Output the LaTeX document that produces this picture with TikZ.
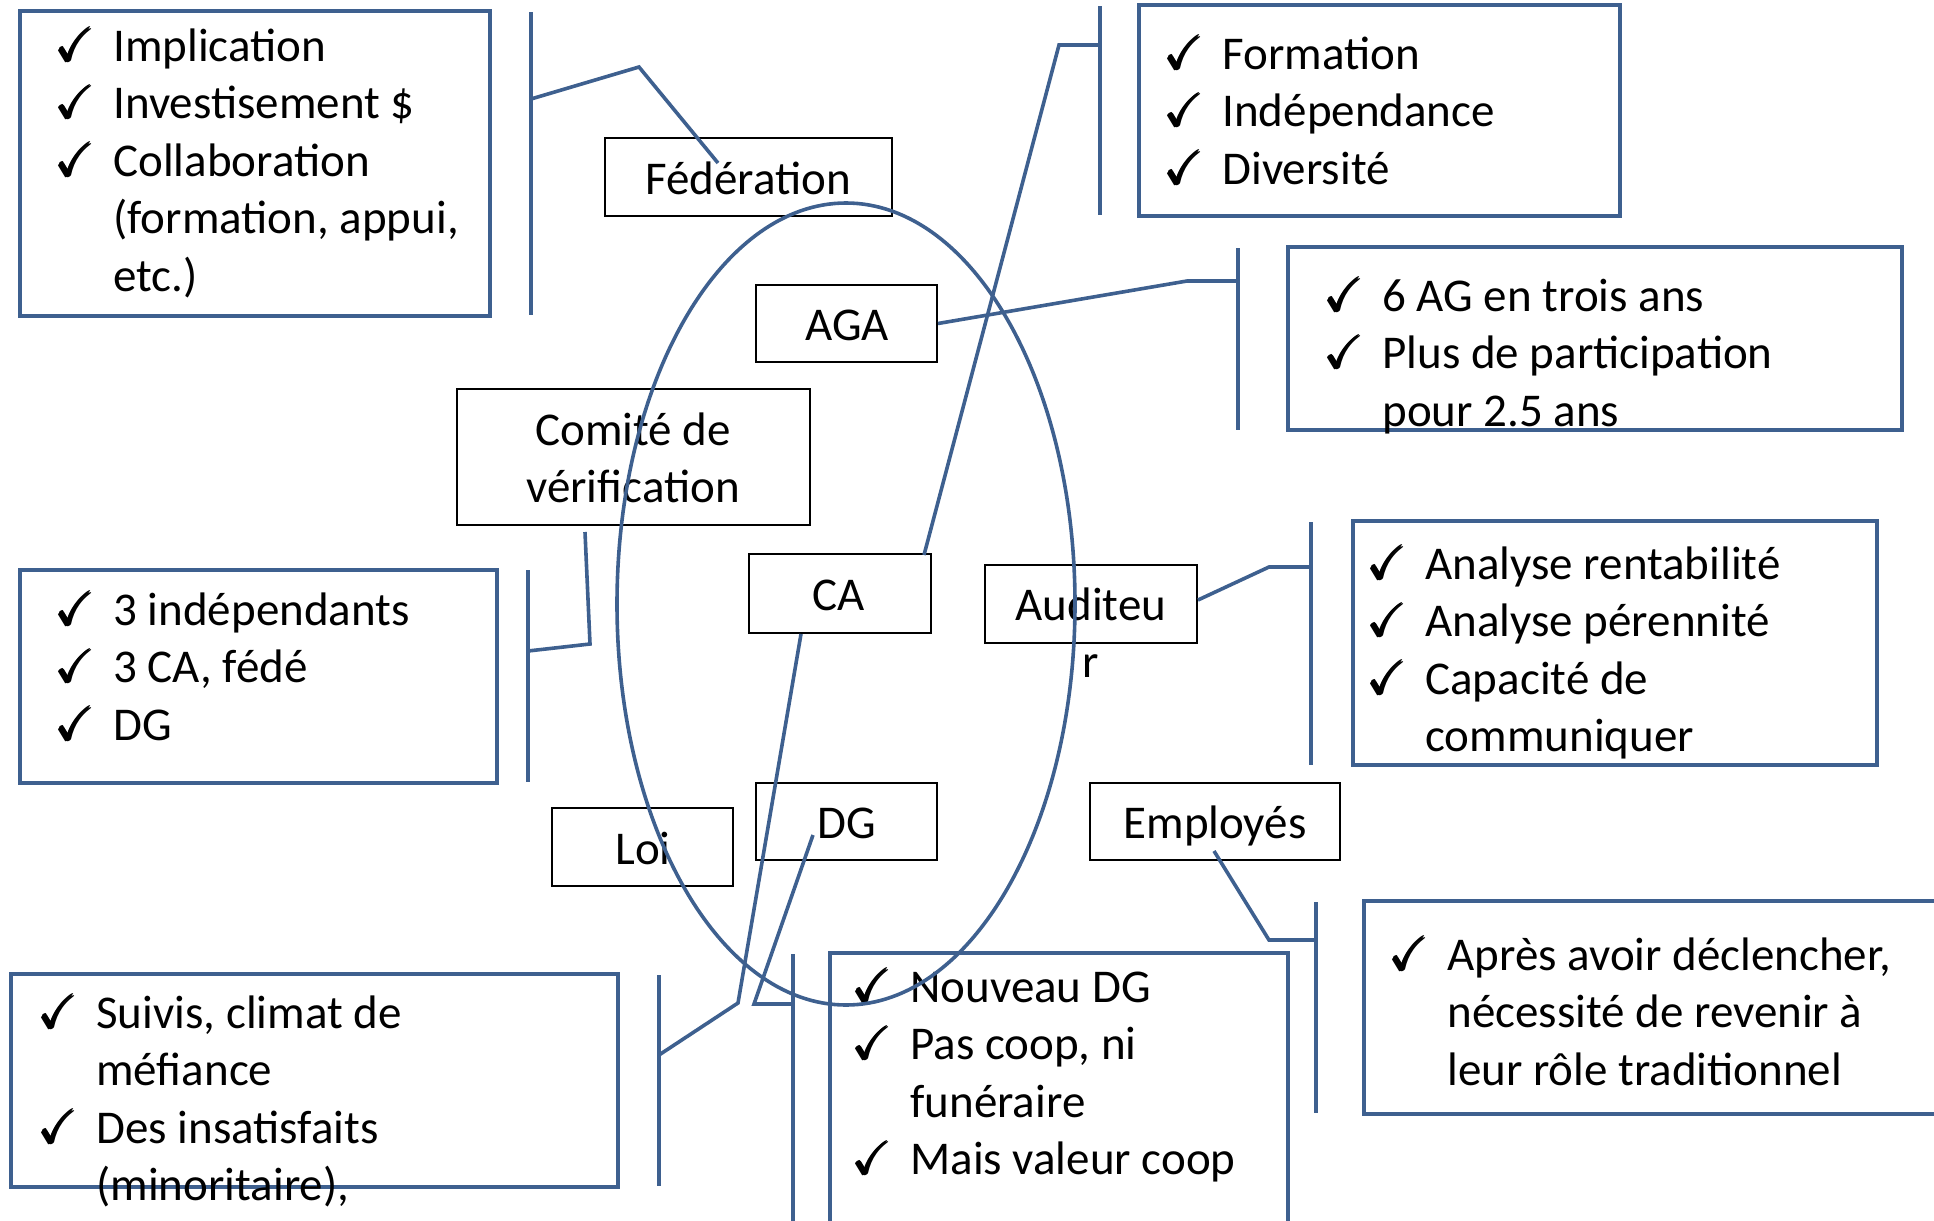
\documentclass[tikz,border=0pt]{standalone}
\usepackage{amsmath}
\usepackage{amssymb}
\usepackage{fontspec}
\setmainfont{Carlito}
\usetikzlibrary{fit}
\definecolor{steel}{RGB}{62,96,143}
\newcommand{\ck}{$\pmb{\checkmark}$}
\newcommand{\checklist}[1]{\begin{tabular}[t]{@{}p{28.5pt}@{}l@{}}#1\end{tabular}}

\begin{document}
\begin{tikzpicture}[x=0.5pt, y=-0.5pt,
    listbox/.style={draw=steel, line width=2.4pt, inner sep=0pt},
    namebox/.style={draw=black, line width=1pt, inner sep=0pt},
    listtext/.style={anchor=base west, inner sep=0pt, font=\fontsize{23.5}{28.75}\selectfont},
    nametext/.style={anchor=base, inner sep=0pt, font=\fontsize{23.5}{28.75}\selectfont},
    link/.style={draw=steel, line width=1.8pt},
    ring/.style={draw=steel, line width=1.8pt}]
    \useasboundingbox (0,0) rectangle (1934,1221);

    % list boxes
    \node[listbox, fit={(20,11) (490,316)}] (fedbox) {};
    \node[listbox, fit={(1139,5) (1620,216)}] (cabox) {};
    \node[listbox, fit={(1288,247) (1902,430)}] (agabox) {};
    \node[listbox, fit={(20,570) (497,783)}] (combox) {};
    \node[listbox, fit={(1353,521) (1877,765)}] (audbox) {};
    \node[listbox, fit={(11,974) (618,1187)}] (loibox) {};
    \node[listbox, fit={(830,953) (1288,1240)}] (dgbox) {};
    \node[listbox, fit={(1364,901) (1950,1114)}] (empbox) {};

    \node[listtext] (fedlist) at (56,61) {\checklist{\ck & Implication\\ \ck & Investisement \$\\ \ck & Collaboration\\ & (formation, appui,\\ & etc.)}};
    \node[listtext] (calist) at (1165,69) {\checklist{\ck & Formation\\ \ck & Indépendance\\ \ck & Diversité}};
    \node[listtext] (agalist) at (1325,311) {\checklist{\ck & 6 AG en trois ans\\ \ck & Plus de participation\\ & pour 2.5 ans}};
    \node[listtext] (comlist) at (56,625) {\checklist{\ck & 3 indépendants\\ \ck & 3 CA, fédé\\ \ck & DG}};
    \node[listtext] (audlist) at (1368,579) {\checklist{\ck & Analyse rentabilité\\ \ck & Analyse pérennité\\ \ck & Capacité de\\ & communiquer}};
    \node[listtext] (loilist) at (39,1028) {\checklist{\ck & Suivis, climat de\\ & méfiance\\ \ck & Des insatisfaits\\ & (minoritaire),}};
    \node[listtext] (dglist) at (853,1002) {\checklist{\ck & Nouveau DG\\ \ck & Pas coop, ni\\ & funéraire\\ \ck & Mais valeur coop}};
    \node[listtext] (emplist) at (1390,970) {\checklist{\ck & Après avoir déclencher,\\ & nécessité de revenir à\\ & leur rôle traditionnel}};

    % name boxes
    \node[namebox, fit={(605,138) (892,216)}] (fed) {};
    \node[namebox, fit={(756,285) (937,362)}] (aga) {};
    \node[namebox, fit={(457,389) (810,525)}] (com) {};
    \node[namebox, fit={(749,554) (931,633)}] (ca) {};
    \node[namebox, fit={(985,565) (1197,643)}] (aud) {};
    \node[namebox, fit={(552,808) (733,886)}] (loi) {};
    \node[namebox, fit={(756,783) (937,860)}] (dg) {};
    \node[namebox, fit={(1090,783) (1340,860)}] (emp) {};

    \node[nametext] (fedtext) at (748,194) {Fédération};
    \node[nametext] (agatext) at (847,340) {AGA};
    \node[nametext] (comtext) at (633,445) {\begin{tabular}[t]{@{}c@{}}Comité de\\ vérification\end{tabular}};
    \node[nametext] (catext) at (839,610) {CA};
    \node[nametext] (audtext) at (1091,620) {\begin{tabular}[t]{@{}c@{}}Auditeu\\ r\end{tabular}};
    \node[nametext] (loitext) at (643,864) {Loi};
    \node[nametext] (dgtext) at (847,838) {DG};
    \node[nametext] (emptext) at (1215,838) {Employés};

    \draw[ring] (846,604) ellipse [x radius=229, y radius=401];

    % brackets
    \foreach \x/\ya/\yb in {531/12/315, 1100/6/215, 1238/248/430, 528/570/782,
                            1311/522/765, 659/975/1186, 793/954/1240, 1316/902/1113}
        \draw[link] (\x,\ya) -- (\x,\yb);

    % connectors
    \draw[link] (531,99) -- (639,67) -- ([xshift=57pt, yshift=-13pt]fed.north west);
    \draw[link] ([xshift=-4pt, yshift=-1pt]ca.north east) -- (1059,45) -- (1100,45);
    \draw[link] (aga.east) -- (1187,281) -- (1238,281);
    \draw[link] ([xshift=64.5pt, yshift=-3pt]com.south west) -- (590,644) -- (528,651);
    \draw[link] ([xshift=26.5pt]ca.south west) -- (738,1003) -- (659,1055);
    \draw[link] ([xshift=29pt, yshift=13pt]dg.south west) -- (754,1004) -- (793,1004);
    \draw[link] ([yshift=2pt]aud.east) -- (1269,567) -- (1311,567);
    \draw[link] ([xshift=62.5pt, yshift=5pt]emp.south west) -- (1269,940) -- (1316,940);
\end{tikzpicture}
\end{document}
